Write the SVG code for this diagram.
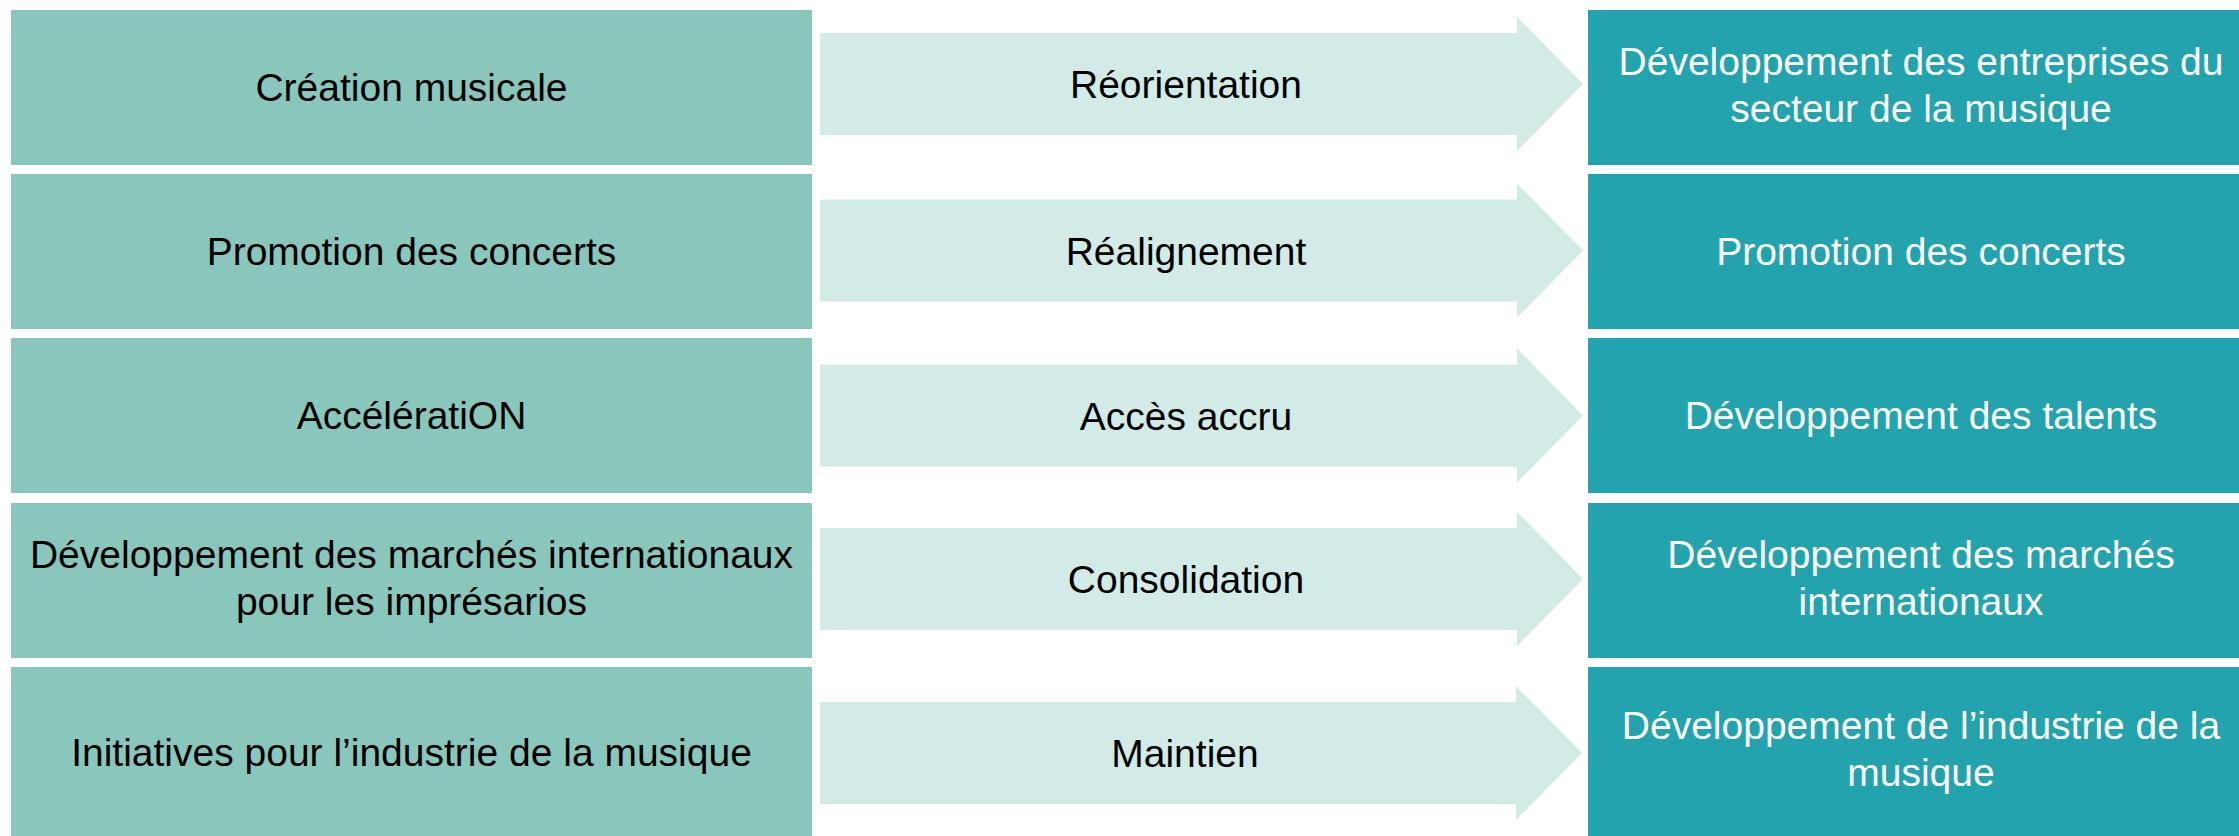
<svg xmlns="http://www.w3.org/2000/svg" width="2239" height="836" viewBox="0 0 2239 836">
<style>
.l{fill:#89C7BC}
.a{fill:#D3EBE7}
.r{fill:#22A3AD}
text{font-family:"Liberation Sans",Arial,sans-serif;font-size:39px;text-anchor:middle}
.dk{fill:#000}
.wt{fill:#fff}
</style>
<rect width="2239" height="836" fill="#fff"/>
<g id="connectors">
<path class="a" d="M820,33H1517V17L1583,84L1517,151V135H820Z"/>
<path class="a" d="M820,199.5H1517V183.5L1583,250.5L1517,317.5V301.5H820Z"/>
<path class="a" d="M820,364.5H1517V348.5L1583,415.5L1517,482.5V466.5H820Z"/>
<path class="a" d="M820,528H1517V512L1583,579L1517,646V630H820Z"/>
<path class="a" d="M820,702H1516V686L1582,753L1516,820V804H820Z"/>
<text class="dk" x="1186" y="98">Réorientation</text>
<text class="dk" x="1186" y="264.5">Réalignement</text>
<text class="dk" x="1186" y="429.5">Accès accru</text>
<text class="dk" x="1186" y="593">Consolidation</text>
<text class="dk" x="1185" y="767">Maintien</text>
</g>
<g id="left1"><rect class="l" x="11" y="10" width="801" height="155"/><text class="dk" x="411.5" y="101">Création musicale</text></g>
<g id="left2"><rect class="l" x="11" y="174" width="801" height="155"/><text class="dk" x="411.5" y="265">Promotion des concerts</text></g>
<g id="left3"><rect class="l" x="11" y="338" width="801" height="155"/><text class="dk" x="411.5" y="429">AccélératiON</text></g>
<g id="left4"><rect class="l" x="11" y="503" width="801" height="155"/><text class="dk" x="411.5" y="568">Développement des marchés internationaux</text><text class="dk" x="411.5" y="614.5">pour les imprésarios</text></g>
<g id="left5"><rect class="l" x="11" y="667" width="801" height="169"/><text class="dk" x="411.5" y="766">Initiatives pour l’industrie de la musique</text></g>
<g id="right1"><rect class="r" x="1588" y="10" width="651" height="155"/><text class="wt" x="1921" y="75">Développement des entreprises du</text><text class="wt" x="1921" y="121.5">secteur de la musique</text></g>
<g id="right2"><rect class="r" x="1588" y="174" width="651" height="155"/><text class="wt" x="1921" y="265">Promotion des concerts</text></g>
<g id="right3"><rect class="r" x="1588" y="338" width="651" height="155"/><text class="wt" x="1921" y="429">Développement des talents</text></g>
<g id="right4"><rect class="r" x="1588" y="503" width="651" height="155"/><text class="wt" x="1921" y="568">Développement des marchés</text><text class="wt" x="1921" y="614.5">internationaux</text></g>
<g id="right5"><rect class="r" x="1588" y="667" width="651" height="169"/><text class="wt" x="1921" y="739">Développement de l’industrie de la</text><text class="wt" x="1921" y="785.5">musique</text></g>
</svg>
